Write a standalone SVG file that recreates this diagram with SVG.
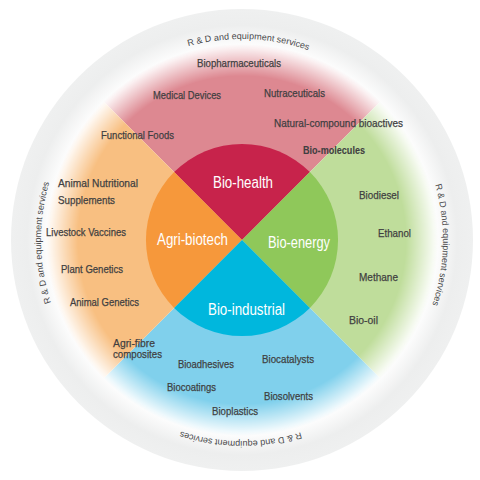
<svg xmlns="http://www.w3.org/2000/svg" width="480" height="480" viewBox="0 0 480 480">
<defs>
  <radialGradient id="ringGrad" gradientUnits="userSpaceOnUse" cx="242" cy="240" r="231">
    <stop offset="0" stop-color="#ffffff"/>
    <stop offset="0.83" stop-color="#ffffff"/>
    <stop offset="0.93" stop-color="#edeeee"/>
    <stop offset="1" stop-color="#eff0f0"/>
  </radialGradient>
  <radialGradient id="fadeGrad" gradientUnits="userSpaceOnUse" cx="242" cy="240" r="200">
    <stop offset="0" stop-color="#fff"/>
    <stop offset="0.82" stop-color="#fff"/>
    <stop offset="0.98" stop-color="#000"/>
  </radialGradient>
  <mask id="fadeMask" maskUnits="userSpaceOnUse" x="0" y="0" width="480" height="480">
    <rect x="0" y="0" width="480" height="480" fill="url(#fadeGrad)"/>
  </mask>
  <path id="ringPath" d="M 99.87,382.13 A 201 201 0 0 1 99.87,97.87 A 201 201 0 0 1 384.13,97.87 A 201 201 0 0 1 384.13,382.13 A 201 201 0 0 1 99.87,382.13"/>
  <style>
    .lbl { font-family: "Liberation Sans", Arial, sans-serif; font-size: 11.5px; fill: #3f3f41; stroke: #3f3f41; stroke-width: 0.25px; }
    .bold { font-weight: bold; stroke-width: 0.1px; }
    .core { font-family: "Liberation Sans", Arial, sans-serif; font-size: 16px; fill: #ffffff; }
    .ring { font-family: "Liberation Sans", Arial, sans-serif; font-size: 9px; fill: #4a4a4c; }
  </style>
</defs>

<g id="background">
  <circle cx="242" cy="240" r="231" fill="url(#ringGrad)"/>
</g>

<g id="outer-sectors" mask="url(#fadeMask)">
  <path id="outer-health" d="M 242,240 L 100.6,98.6 A 200 200 0 0 1 383.4,98.6 Z" fill="#dd8891"/>
  <path id="outer-energy" d="M 242,240 L 383.4,98.6 A 200 200 0 0 1 383.4,381.4 Z" fill="#bfdd9b"/>
  <path id="outer-industrial" d="M 242,240 L 383.4,381.4 A 200 200 0 0 1 100.6,381.4 Z" fill="#80d0ec"/>
  <path id="outer-agri" d="M 242,240 L 100.6,381.4 A 200 200 0 0 1 100.6,98.6 Z" fill="#f8bf81"/>
</g>

<g id="ring-labels">
  <text class="ring"><textPath href="#ringPath" startOffset="155" text-anchor="middle" textLength="122" lengthAdjust="spacingAndGlyphs">R &amp; D and equipment services</textPath></text>
  <text class="ring"><textPath href="#ringPath" startOffset="480" text-anchor="middle" textLength="122" lengthAdjust="spacingAndGlyphs">R &amp; D and equipment services</textPath></text>
  <text class="ring"><textPath href="#ringPath" startOffset="794" text-anchor="middle" textLength="122" lengthAdjust="spacingAndGlyphs">R &amp; D and equipment services</textPath></text>
  <text class="ring"><textPath href="#ringPath" startOffset="1106" text-anchor="middle" textLength="122" lengthAdjust="spacingAndGlyphs">R &amp; D and equipment services</textPath></text>
</g>

<g id="bio-health">
  <path d="M 242,240 L 174.1,172.1 A 96 96 0 0 1 309.9,172.1 Z" fill="#c7234b"/>
  <text class="core" x="213" y="187.5" textLength="60" lengthAdjust="spacingAndGlyphs">Bio-health</text>
  <text class="lbl" x="197" y="67" textLength="84" lengthAdjust="spacingAndGlyphs">Biopharmaceuticals</text>
  <text class="lbl" x="153" y="99" textLength="68" lengthAdjust="spacingAndGlyphs">Medical Devices</text>
  <text class="lbl" x="264" y="97" textLength="61" lengthAdjust="spacingAndGlyphs">Nutraceuticals</text>
  <text class="lbl" x="274" y="127" textLength="129" lengthAdjust="spacingAndGlyphs">Natural-compound bioactives</text>
  <text class="lbl bold" x="303" y="154" textLength="62" lengthAdjust="spacingAndGlyphs">Bio-molecules</text>
</g>

<g id="agri-biotech">
  <path d="M 242,240 L 174.1,307.9 A 96 96 0 0 1 174.1,172.1 Z" fill="#f6983b"/>
  <text class="core" x="157" y="245" textLength="71" lengthAdjust="spacingAndGlyphs">Agri-biotech</text>
  <text class="lbl" x="101" y="139" textLength="73" lengthAdjust="spacingAndGlyphs">Functional Foods</text>
  <text class="lbl" x="58" y="187" textLength="80" lengthAdjust="spacingAndGlyphs">Animal Nutritional</text>
  <text class="lbl" x="58" y="203.5" textLength="57" lengthAdjust="spacingAndGlyphs">Supplements</text>
  <text class="lbl" x="46" y="236" textLength="80" lengthAdjust="spacingAndGlyphs">Livestock Vaccines</text>
  <text class="lbl" x="61" y="273" textLength="62" lengthAdjust="spacingAndGlyphs">Plant Genetics</text>
  <text class="lbl" x="70" y="306" textLength="69" lengthAdjust="spacingAndGlyphs">Animal Genetics</text>
  <text class="lbl" x="113" y="346.5" textLength="42" lengthAdjust="spacingAndGlyphs">Agri-fibre</text>
  <text class="lbl" x="113" y="357.5" textLength="49" lengthAdjust="spacingAndGlyphs">composites</text>
</g>

<g id="bio-energy">
  <path d="M 242,240 L 309.9,172.1 A 96 96 0 0 1 309.9,307.9 Z" fill="#8fc85a"/>
  <text class="core" x="268" y="247.5" textLength="62" lengthAdjust="spacingAndGlyphs">Bio-energy</text>
  <text class="lbl" x="359" y="199" textLength="40" lengthAdjust="spacingAndGlyphs">Biodiesel</text>
  <text class="lbl" x="378" y="236.5" textLength="33" lengthAdjust="spacingAndGlyphs">Ethanol</text>
  <text class="lbl" x="359" y="281" textLength="39" lengthAdjust="spacingAndGlyphs">Methane</text>
  <text class="lbl" x="349" y="324" textLength="29" lengthAdjust="spacingAndGlyphs">Bio-oil</text>
</g>

<g id="bio-industrial">
  <path d="M 242,240 L 309.9,307.9 A 96 96 0 0 1 174.1,307.9 Z" fill="#00b7dd"/>
  <text class="core" x="208" y="315" textLength="77" lengthAdjust="spacingAndGlyphs">Bio-industrial</text>
  <text class="lbl" x="178" y="368" textLength="56" lengthAdjust="spacingAndGlyphs">Bioadhesives</text>
  <text class="lbl" x="262" y="363" textLength="52" lengthAdjust="spacingAndGlyphs">Biocatalysts</text>
  <text class="lbl" x="167" y="391" textLength="49" lengthAdjust="spacingAndGlyphs">Biocoatings</text>
  <text class="lbl" x="264" y="400" textLength="49" lengthAdjust="spacingAndGlyphs">Biosolvents</text>
  <text class="lbl" x="212" y="415" textLength="46" lengthAdjust="spacingAndGlyphs">Bioplastics</text>
</g>

<g id="connectors"></g>
</svg>
